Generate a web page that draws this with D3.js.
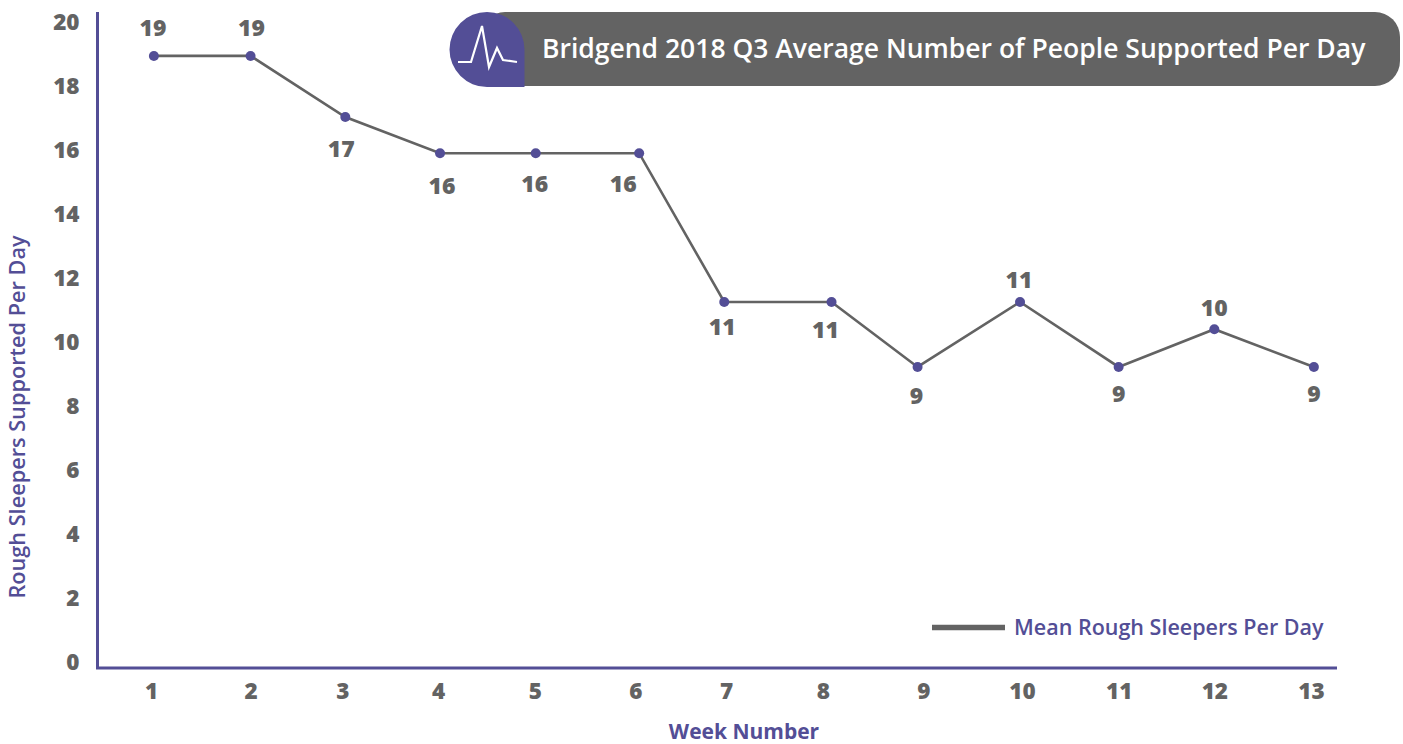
<!DOCTYPE html>
<html><head><meta charset="utf-8">
<script src="https://cdn.jsdelivr.net/npm/d3@7/dist/d3.min.js"></script>
<style>html,body{margin:0;padding:0;background:#fff}svg{display:block}text{font-family:"Open Sans",Lato,sans-serif}</style>
</head><body><svg id="c" width="1403" height="744"></svg>
<script>
const title = "Bridgend 2018 Q3 Average Number of People Supported Per Day";
const yTitle = "Rough Sleepers Supported Per Day";
const xTitle = "Week Number";
const seriesName = "Mean Rough Sleepers Per Day";
const weeks = [1,2,3,4,5,6,7,8,9,10,11,12,13];
const weekPositions = [1.03,2.03,3.01,3.99,4.98,6.05,6.93,8.04,8.93,9.99,11.01,12.0,13.03];
const tickPositions = [1,2.03,2.98,3.97,4.97,6.01,6.95,7.95,8.99,10.01,11.01,12,13];
const values = [18.94,18.94,17.03,15.9,15.9,15.9,11.25,11.25,9.22,11.25,9.22,10.4,9.22];
const pointLabels = [19,19,17,16,16,16,11,11,9,11,9,10,9];
const purple="#534e96", grey="#636363";
const labelDx=[-1,1,-4,2,-1,-16,-2,-6,-1,-1,0,0,0];
const labelDy=[-20,-20,40,41,39,39,33,36,37,-14,35,-13,35];

const svg=d3.select("#c");
const x=d3.scaleLinear().domain([1,13]).range([151,1311]);
const y=d3.scaleLinear().domain([0,20]).range([662,22]);
const axisLeft=97.5, axisBottom=668;

const yAxis=svg.append("g").attr("transform",`translate(${axisLeft},0)`)
  .call(d3.axisLeft(y).tickValues(d3.range(0,21,2)).tickSize(0).tickPadding(18));
yAxis.select(".domain").remove();
yAxis.selectAll("text").attr("font-size",22.5).attr("font-weight",800).attr("fill",grey).attr("font-family","Open Sans");
const xAxis=svg.append("g").attr("transform",`translate(0,${axisBottom})`)
  .call(d3.axisBottom(x).tickValues(tickPositions).tickFormat((d,i)=>weeks[i]).tickSize(0).tickPadding(15.5));
xAxis.select(".domain").remove();
xAxis.selectAll("text").attr("font-size",22.5).attr("font-weight",800).attr("fill",grey).attr("font-family","Open Sans");
svg.append("path").attr("d",`M${axisLeft},12V${axisBottom}H1337`).attr("fill","none").attr("stroke",purple).attr("stroke-width",3);

const line=d3.line().x((d,i)=>x(weekPositions[i])).y(d=>y(d));
svg.append("path").attr("d",line(values)).attr("fill","none").attr("stroke",grey).attr("stroke-width",2.6);
svg.selectAll("circle.p").data(values).join("circle").attr("class","p")
  .attr("cx",(d,i)=>x(weekPositions[i])).attr("cy",d=>y(d)).attr("r",5).attr("fill",purple);
svg.selectAll("text.l").data(values).join("text").attr("class","l")
  .attr("x",(d,i)=>x(weekPositions[i])+labelDx[i]).attr("y",(d,i)=>y(d)+labelDy[i])
  .attr("text-anchor","middle").attr("font-size",23).attr("font-weight",800).attr("fill",grey)
  .text((d,i)=>pointLabels[i]);

svg.append("text").attr("transform","translate(25,417) rotate(-90)").attr("text-anchor","middle")
  .attr("font-size",21.7).attr("font-weight",600).attr("fill",purple).text(yTitle);
svg.append("text").attr("x",744).attr("y",739).attr("text-anchor","middle")
  .attr("font-size",21).attr("font-weight",700).attr("fill",purple).text(xTitle);

svg.append("line").attr("x1",932).attr("x2",1005).attr("y1",627.5).attr("y2",627.5).attr("stroke",grey).attr("stroke-width",5.5);
svg.append("text").attr("x",1014).attr("y",635).attr("font-size",21.5).attr("font-weight",600).attr("fill",purple).text(seriesName);

svg.append("rect").attr("x",480).attr("y",12).attr("width",920).attr("height",74).attr("rx",25).attr("fill",grey);
svg.append("path").attr("d","M487,12A37.5,37.5 0 0 1 524.5,49.5V87H487A37.5,37.5 0 0 1 487,12Z").attr("fill",purple);
svg.append("path").attr("d","M458,62H471L482,26L489,67L497,48L503,60L517,62").attr("fill","none").attr("stroke","#fff").attr("stroke-width",2.2);
svg.append("text").attr("x",542).attr("y",58).attr("font-size",26.5).attr("font-weight",600).attr("fill","#fff").text(title);
</script></body></html>
